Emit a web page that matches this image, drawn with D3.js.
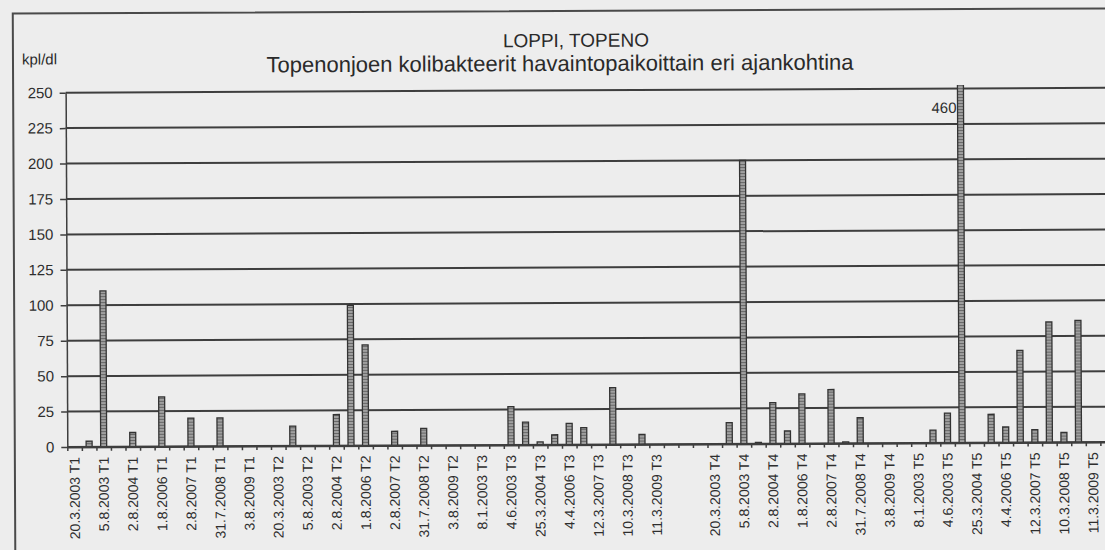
<!DOCTYPE html>
<html>
<head>
<meta charset="utf-8">
<script src="https://cdn.jsdelivr.net/npm/d3@7"></script>
<style>
  html, body { margin: 0; padding: 0; background: #ededed; }
  svg { display: block; font-family: "Liberation Sans", Arial, sans-serif; }
</style>
</head>
<body>
<svg id="chart" width="1105" height="550"></svg>
<script>
const title = "LOPPI, TOPENO";
const subtitle = "Topenonjoen kolibakteerit havaintopaikoittain eri ajankohtina";
const unit = "kpl/dl";

// only every second sample is labelled in the print
const tickLabels = [
  "20.3.2003 T1", "5.8.2003 T1", "2.8.2004 T1", "1.8.2006 T1", "2.8.2007 T1", "31.7.2008 T1", "3.8.2009 T1",
  "20.3.2003 T2", "5.8.2003 T2", "2.8.2004 T2", "1.8.2006 T2", "2.8.2007 T2", "31.7.2008 T2", "3.8.2009 T2",
  "8.1.2003 T3", "4.6.2003 T3", "25.3.2004 T3", "4.4.2006 T3", "12.3.2007 T3", "10.3.2008 T3", "11.3.2009 T3",
  "",
  "20.3.2003 T4", "5.8.2003 T4", "2.8.2004 T4", "1.8.2006 T4", "2.8.2007 T4", "31.7.2008 T4", "3.8.2009 T4",
  "8.1.2003 T5", "4.6.2003 T5", "25.3.2004 T5", "4.4.2006 T5", "12.3.2007 T5", "10.3.2008 T5", "11.3.2009 T5"
];

// kpl/dl per sample slot, null = no bar
const counts = [
  null, 4, 110, null, 10, null, 35, null, 20, null, 20, null, null, null,
  null, 14, null, null, 22, 99, 71, null, 10, null, 12, null, null, null,
  null, null, 27, 16, 2, 7, 15, 12, null, 40, null, 7, null, null,
  null, null,
  null, 15, 200, 1, 29, 9, 35, null, 38, 1, 18, null, null, null,
  null, 9, 21, 460, null, 20, 11, 65, 9, 85, 7, 86, null, null
];

const yTicks = [0, 25, 50, 75, 100, 125, 150, 175, 200, 225, 250];

const W = 1105, H = 550;
const left = 66.5, step = 14.55;
const n = counts.length;

const svg = d3.select("#chart");

svg.append("rect").attr("width", W).attr("height", H).attr("fill", "#ededed");

const defs = svg.append("defs");
const pat = defs.append("pattern").attr("id", "hatch")
  .attr("width", 4).attr("height", 3).attr("patternUnits", "userSpaceOnUse");
pat.append("rect").attr("width", 4).attr("height", 3).attr("fill", "#a0a0a0");
pat.append("line").attr("x1", 0).attr("x2", 4).attr("y1", 0.5).attr("y2", 0.5)
  .attr("stroke", "#666").attr("stroke-width", 1);

// the scan is tilted a little
const g = svg.append("g").attr("transform", "rotate(-0.27, 552, 275)");

const x = d3.scaleBand()
  .domain(d3.range(n))
  .range([left, left + n * step])
  .paddingInner(0.588)
  .paddingOuter(0.294);
const xEdge = d3.scaleLinear().domain([0, n]).range([left, left + n * step]);
const y = d3.scaleLinear().domain([0, d3.max(yTicks)]).range([444.7, 90.4]);

defs.append("clipPath").attr("id", "plotclip")
  .append("rect").attr("x", left).attr("y", y(250) - 3.5)
  .attr("width", W).attr("height", y(0) - y(250) + 3.5);

// frame of the chart object
g.append("path")
  .attr("d", `M14,${H + 20}L14,11L${W + 30},11`)
  .attr("fill", "none").attr("stroke", "#4a4a4a").attr("stroke-width", 2);

// grid lines
g.append("g")
  .selectAll("line")
  .data(yTicks)
  .join("line")
  .attr("x1", left).attr("x2", W + 30)
  .attr("y1", d => y(d)).attr("y2", d => y(d))
  .attr("stroke", "#3e3e3e").attr("stroke-width", 2);

// y axis
const yAxis = g.append("g")
  .attr("transform", `translate(${left},0)`)
  .call(d3.axisLeft(y).tickValues(yTicks).tickSize(6).tickSizeOuter(0).tickPadding(7));
yAxis.select(".domain").attr("stroke", "#3e3e3e").attr("stroke-width", 1.5);
yAxis.selectAll(".tick line").attr("stroke", "#3e3e3e").attr("stroke-width", 1.5);
yAxis.selectAll("text").attr("fill", "#2e2e2e").style("font-size", "15px");

// bars
g.append("g")
  .attr("clip-path", "url(#plotclip)")
  .selectAll("rect")
  .data(counts.map((v, i) => ({ i, v })).filter(d => d.v != null))
  .join("rect")
  .attr("x", d => x(d.i))
  .attr("width", x.bandwidth())
  .attr("y", d => y(d.v))
  .attr("height", d => y(0) - y(d.v))
  .attr("fill", "url(#hatch)")
  .attr("stroke", "#333").attr("stroke-width", 1.3);

// value of the bar that runs off the scale
const over = counts.map((v, i) => ({ i, v })).filter(d => d.v > d3.max(yTicks));
g.append("g").selectAll("text")
  .data(over)
  .join("text")
  .attr("x", d => x(d.i) - 1)
  .attr("y", y(250) + 24.5)
  .attr("text-anchor", "end")
  .attr("fill", "#2e2e2e")
  .style("font-size", "15px")
  .text(d => d.v);

// x axis: tick marks on every slot edge
const xTicks = g.append("g")
  .attr("transform", `translate(0,${y(0)})`)
  .call(d3.axisBottom(xEdge).tickValues(d3.range(n + 1)).tickSize(4).tickSizeOuter(0).tickFormat(""));
xTicks.select(".domain").attr("stroke", "#3e3e3e").attr("stroke-width", 2);
xTicks.selectAll(".tick line").attr("stroke", "#3e3e3e").attr("stroke-width", 1.5);

// x labels on every second slot
const xLabels = g.append("g")
  .attr("transform", `translate(0,${y(0)})`)
  .call(d3.axisBottom(x)
    .tickValues(d3.range(0, n, 2))
    .tickSize(0)
    .tickFormat(i => tickLabels[i / 2]));
xLabels.select(".domain").remove();
xLabels.selectAll("text")
  .attr("transform", "rotate(-90)")
  .attr("x", -10).attr("y", 0).attr("dy", "0.35em")
  .style("text-anchor", "end")
  .style("font-size", "14px")
  .attr("fill", "#2e2e2e");

// titles
g.append("text")
  .attr("x", 577).attr("y", 47)
  .attr("text-anchor", "middle")
  .style("font-size", "19px")
  .attr("fill", "#2a2a2a")
  .text(title);

g.append("text")
  .attr("x", 561).attr("y", 71)
  .attr("text-anchor", "middle")
  .style("font-size", "22px")
  .attr("fill", "#2a2a2a")
  .text(subtitle);

g.append("text")
  .attr("x", 23).attr("y", 62)
  .style("font-size", "15px")
  .attr("fill", "#2a2a2a")
  .text(unit);
</script>
</body>
</html>
